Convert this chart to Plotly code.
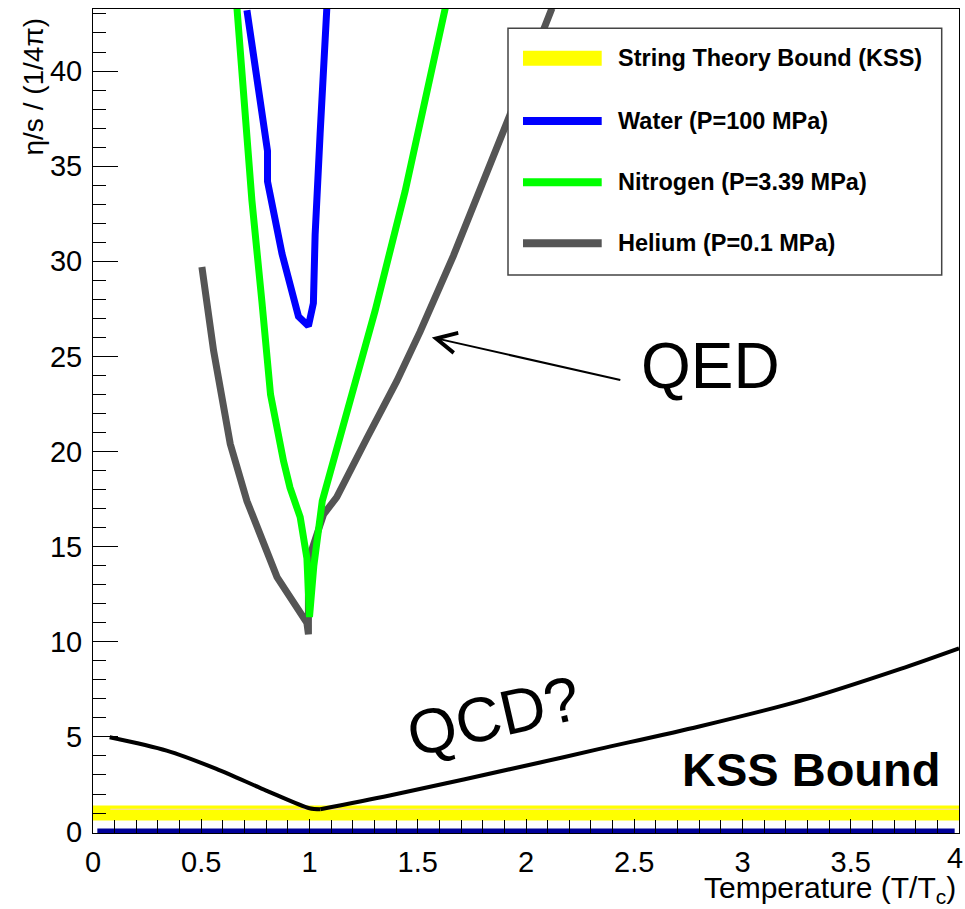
import plotly.graph_objects as go

# ---- data (T/Tc on x, eta/s in units of 1/4pi on y) ----
kss_x = [0.0, 4.0]
kss_y = [1.0, 1.0]

zero_x = [0.02, 3.98]
zero_y = [0.05, 0.05]

kss_fine_x = [0.08, 4.02]
kss_fine_y = [1.2, 1.2]

water_x = [0.711, 0.765, 0.806, 0.806, 0.873, 0.949, 0.995, 1.018, 1.026, 1.049, 1.08]
water_y = [43.2, 39.3, 35.8, 34.2, 30.4, 27.1, 26.6, 27.8, 31.4, 36.7, 43.3]

nitrogen_x = [0.665, 0.695, 0.734, 0.78, 0.82, 0.88, 0.91, 0.957, 0.988, 1.0,
              1.02, 1.059, 1.165, 1.303, 1.442, 1.627]
nitrogen_y = [43.3, 38.5, 33.2, 27.9, 23.0, 19.5, 18.1, 16.55, 14.4, 11.3,
              14.0, 17.4, 21.6, 27.4, 33.7, 43.3]

helium_x = [0.503, 0.526, 0.557, 0.634, 0.711, 0.85, 0.988, 0.995, 0.995,
            1.065, 1.126, 1.265, 1.403, 1.511, 1.573, 1.665, 1.926, 2.12]
helium_y = [29.7, 27.9, 25.3, 20.4, 17.4, 13.4, 11.0, 10.4, 14.3,
            16.7, 17.6, 20.7, 23.7, 26.3, 27.9, 30.3, 37.7, 43.3]

qcd_x = [0.077, 0.34, 0.57, 0.80, 1.0, 1.05, 1.37, 2.07, 2.34, 2.80, 3.27, 3.73, 4.0]
qcd_y = [4.98, 4.28, 3.32, 2.18, 1.25, 1.2, 1.92, 3.67, 4.37, 5.55, 6.91, 8.58, 9.66]
qcd_min = 5  # index of the minimum near T = Tc

x_ticks = [0, 0.5, 1, 1.5, 2, 2.5, 3, 3.5]
x_edge_label = "4"

legend_labels = ["String Theory Bound (KSS)", "Water (P=100 MPa)",
                 "Nitrogen (P=3.39 MPa)", "Helium (P=0.1 MPa)"]
legend_colors = ["#ffff00", "#0000ff", "#00ff00", "#555555"]
legend_widths = [15, 8, 8, 8]

FONT = "Liberation Sans, Arial, Helvetica, sans-serif"

# ---- canvas geometry ----
W, H = 965, 909
ML, MR, MT, MB = 93, 6, 9, 76
PW, PH = W - ML - MR, H - MT - MB


def px_x(p):
    return (p - ML) / PW


def px_y(p):
    return (H - MB - p) / PH


fig = go.Figure()

fig.add_trace(go.Scatter(x=zero_x, y=zero_y, mode="lines",
                         line=dict(color="#000099", width=5), hoverinfo="skip"))
fig.add_trace(go.Scatter(x=kss_x, y=kss_y, mode="lines",
                         line=dict(color="#ffff00", width=15), name=legend_labels[0]))
fig.add_trace(go.Scatter(x=kss_fine_x, y=kss_fine_y, mode="lines",
                         line=dict(color="#f6d2d2", width=1), hoverinfo="skip"))
# QCD curve: two smooth branches meeting at the minimum
fig.add_trace(go.Scatter(x=qcd_x[:qcd_min + 1], y=qcd_y[:qcd_min + 1], mode="lines",
                         line=dict(color="black", width=4, shape="spline", smoothing=0.8),
                         name="QCD?"))
fig.add_trace(go.Scatter(x=qcd_x[qcd_min:], y=qcd_y[qcd_min:], mode="lines",
                         line=dict(color="black", width=4, shape="spline", smoothing=0.8),
                         name="QCD?", showlegend=False))
fig.add_trace(go.Scatter(x=helium_x, y=helium_y, mode="lines",
                         line=dict(color="#555555", width=7), name=legend_labels[3]))
fig.add_trace(go.Scatter(x=nitrogen_x, y=nitrogen_y, mode="lines",
                         line=dict(color="#00ff00", width=7), name=legend_labels[2]))
fig.add_trace(go.Scatter(x=water_x, y=water_y, mode="lines",
                         line=dict(color="#0000ff", width=7), name=legend_labels[1]))

tickfont = dict(family=FONT, size=29, color="black")

fig.update_xaxes(range=[0, 4], tickmode="array", tickvals=x_ticks + [4],
                 ticktext=[("%g" % t) for t in x_ticks] + [""],
                 ticks="inside", ticklen=14, tickwidth=1, tickcolor="black",
                 minor=dict(tick0=0, dtick=0.1, ticks="inside", ticklen=13, tickwidth=1,
                            tickcolor="black"),
                 showline=True, linecolor="black", linewidth=1, mirror=True,
                 showgrid=False, zeroline=False, tickfont=tickfont,
                 ticklabelstandoff=3)
fig.update_yaxes(range=[-0.05, 43.26], tick0=0, dtick=5, ticks="inside", ticklen=25,
                 tickwidth=1, tickcolor="black",
                 minor=dict(dtick=1, ticks="inside", ticklen=13, tickwidth=1,
                            tickcolor="black"),
                 showline=True, linecolor="black", linewidth=1, mirror=True,
                 showgrid=False, zeroline=False, tickfont=tickfont,
                 ticklabelstandoff=4)

shapes = []
annotations = []

# last x tick label sits against the right edge of the canvas
annotations.append(dict(xref="paper", yref="paper", x=px_x(W), y=px_y(858),
                        xanchor="right", yanchor="middle", showarrow=False,
                        text=x_edge_label, font=tickfont))

# legend box
shapes.append(dict(type="rect", xref="paper", yref="paper",
                   x0=px_x(508), x1=px_x(941.7), y0=px_y(275), y1=px_y(28.3),
                   line=dict(color="#444444", width=1.5), fillcolor="white"))
for i, (lab, col, lw) in enumerate(zip(legend_labels, legend_colors, legend_widths)):
    yy = [58.3, 121, 182.3, 243.3][i]
    shapes.append(dict(type="line", xref="paper", yref="paper",
                       x0=px_x(523), x1=px_x(601.7), y0=px_y(yy), y1=px_y(yy),
                       line=dict(color=col, width=lw)))
    annotations.append(dict(xref="paper", yref="paper", x=px_x(616), y=px_y(yy),
                            xanchor="left", yanchor="middle", showarrow=False,
                            text="<b>%s</b>" % lab,
                            font=dict(family=FONT, size=23.5, color="black")))

# axis titles
annotations.append(dict(xref="paper", yref="paper", x=px_x(958), y=px_y(869),
                        xanchor="right", yanchor="top", showarrow=False,
                        text="Temperature (T/T<sub>c</sub>)",
                        font=dict(family=FONT, size=30, color="black")))
annotations.append(dict(xref="paper", yref="paper", x=px_x(33), y=px_y(86.5),
                        xanchor="center", yanchor="middle", showarrow=False,
                        textangle=-90, text="η/s / (1/4π)",
                        font=dict(family=FONT, size=28, color="black")))

# labels on the plot
annotations.append(dict(xref="paper", yref="paper", x=px_x(710), y=px_y(366.5),
                        xanchor="center", yanchor="middle", showarrow=False,
                        text="QED", font=dict(family=FONT, size=64, color="black")))
annotations.append(dict(xref="x", yref="y", x=1.565, y=26.0,
                        ax=190, ay=43, axref="pixel", ayref="pixel",
                        showarrow=True, arrowhead=5, arrowsize=2, arrowwidth=2,
                        arrowcolor="black", text=""))
annotations.append(dict(xref="paper", yref="paper", x=px_x(493), y=px_y(716),
                        xanchor="center", yanchor="middle", showarrow=False,
                        textangle=-13, text="QCD?",
                        font=dict(family=FONT, size=63, color="black")))
annotations.append(dict(xref="paper", yref="paper", x=px_x(811), y=px_y(769),
                        xanchor="center", yanchor="middle", showarrow=False,
                        text="<b>KSS Bound</b>",
                        font=dict(family=FONT, size=47, color="black")))

fig.update_layout(width=W, height=H,
                  margin=dict(l=ML, r=MR, t=MT, b=MB),
                  paper_bgcolor="white", plot_bgcolor="white",
                  showlegend=False, shapes=shapes, annotations=annotations,
                  font=dict(family=FONT, color="black"))

fig.write_html("out.html")
